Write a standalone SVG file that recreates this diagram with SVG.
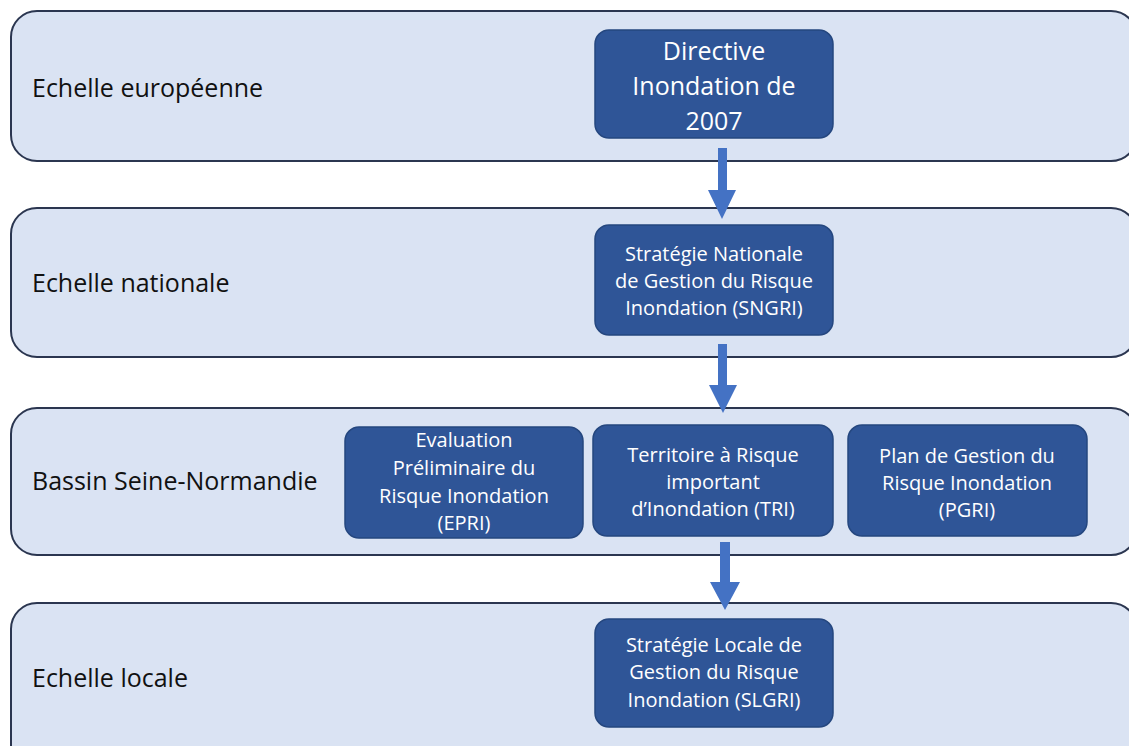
<svg xmlns="http://www.w3.org/2000/svg" width="1129" height="746" viewBox="0 0 1129 746">
<style>
.lane{fill:#dae3f3;stroke:#2b3650;stroke-width:2}
.lbl{font-family:"Open Sans","Noto Sans",sans-serif;font-size:25px;fill:#111}
.box{fill:#2f5597;stroke:#25477f;stroke-width:1.5}
.bt{font-family:"Open Sans","Noto Sans",sans-serif;font-size:20px;fill:#fff;text-anchor:middle}
.bt-l{font-family:"Open Sans","Noto Sans",sans-serif;font-size:25px;fill:#fff;text-anchor:middle}
.arrow{fill:#4472c4}
</style>
<rect width="1129" height="746" fill="#ffffff"/>
<g id="lane-europe">
<rect class="lane" x="11" y="11" width="1126" height="150" rx="26"/>
<text class="lbl" x="32" y="97">Echelle européenne</text>
</g>
<g id="lane-national">
<rect class="lane" x="11" y="208" width="1126" height="149" rx="26"/>
<text class="lbl" x="32" y="292">Echelle nationale</text>
</g>
<g id="lane-bassin">
<rect class="lane" x="11" y="408" width="1126" height="147" rx="26"/>
<text class="lbl" x="32" y="490">Bassin Seine-Normandie</text>
</g>
<g id="lane-local">
<rect class="lane" x="11" y="603" width="1126" height="170" rx="26"/>
<text class="lbl" x="32" y="687">Echelle locale</text>
</g>
<g id="node-directive">
<rect class="box" x="595" y="30" width="238" height="108" rx="14"/>
<text class="bt-l" x="714" y="60">Directive</text>
<text class="bt-l" x="714" y="95">Inondation de</text>
<text class="bt-l" x="714" y="130">2007</text>
</g>
<g id="node-sngri">
<rect class="box" x="595" y="225" width="238" height="110" rx="14"/>
<text class="bt" x="714" y="261">Stratégie Nationale</text>
<text class="bt" x="714" y="288">de Gestion du Risque</text>
<text class="bt" x="714" y="315">Inondation (SNGRI)</text>
</g>
<g id="node-epri">
<rect class="box" x="345" y="427" width="238" height="111" rx="14"/>
<text class="bt" x="464" y="447">Evaluation</text>
<text class="bt" x="464" y="475">Préliminaire du</text>
<text class="bt" x="464" y="503">Risque Inondation</text>
<text class="bt" x="464" y="530">(EPRI)</text>
</g>
<g id="node-tri">
<rect class="box" x="593" y="425" width="240" height="111" rx="14"/>
<text class="bt" x="713" y="462">Territoire à Risque</text>
<text class="bt" x="713" y="489">important</text>
<text class="bt" x="713" y="516">d’Inondation (TRI)</text>
</g>
<g id="node-pgri">
<rect class="box" x="848" y="425" width="239" height="111" rx="14"/>
<text class="bt" x="967" y="463">Plan de Gestion du</text>
<text class="bt" x="967" y="490">Risque Inondation</text>
<text class="bt" x="967" y="517">(PGRI)</text>
</g>
<g id="node-slgri">
<rect class="box" x="595" y="619" width="238" height="108" rx="14"/>
<text class="bt" x="714" y="652">Stratégie Locale de</text>
<text class="bt" x="714" y="679">Gestion du Risque</text>
<text class="bt" x="714" y="707">Inondation (SLGRI)</text>
</g>
<g id="connectors">
<polygon class="arrow" points="718,148 727,148 727,190 736,190 722,219 708,190 718,190"/>
<polygon class="arrow" points="718,344 727,344 727,385 737,385 723,413 709,385 718,385"/>
<polygon class="arrow" points="720,542 730,542 730,582 740,582 725,610 710,582 720,582"/>
</g>
</svg>
